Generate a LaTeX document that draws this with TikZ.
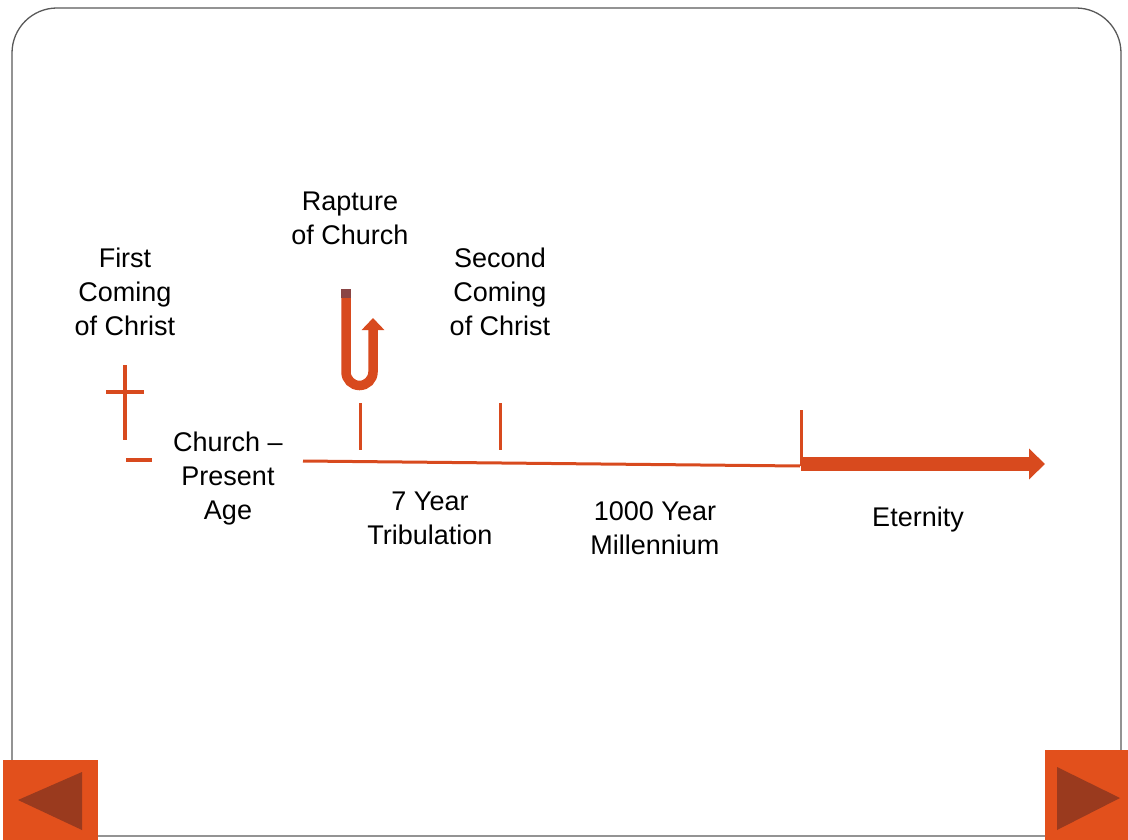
\documentclass[tikz,border=0pt]{standalone}
\usepackage{fontspec}
\setmainfont{Liberation Sans}
\usetikzlibrary{arrows.meta, positioning}

\definecolor{lineRed}{HTML}{D84A1E}
\definecolor{btnRed}{HTML}{E2501C}
\definecolor{btnDark}{HTML}{9A3A1E}
\definecolor{capDark}{HTML}{8A4545}

\tikzset{
  label text/.style={align=center, font=\fontsize{27}{34}\selectfont, inner sep=0pt},
  tick/.style={lineRed, line width=3.5pt},
}

\begin{document}
\begin{tikzpicture}[x=1pt, y=-1pt]
		\useasboundingbox (0,0) rectangle (1128,840);
		% Frame
		\draw[gray!70!black, line width=1.3pt, rounded corners=45pt] (12,8) rectangle (1121,836);
		
		% Cross for the first coming
		\draw[tick] (125,365) -- (125,440);
		\draw[tick] (106,392) -- (144,392);
		\draw[tick] (126,460) -- (152,460);
		
		% Timeline
		\draw[tick, line width=3pt] (303,461) -- (800,466);
		\draw[tick, line width=3pt] (360,403) -- (360,450);
		\draw[tick, line width=3pt] (500,403) -- (500,450);
		\draw[tick, line width=3pt] (801,410) -- (801,466);
		\draw[lineRed, line width=14pt, -{Triangle[width=30pt, length=16pt]}] (801,464) -- (1045,464);
		
		% Rapture U-turn
		\draw[lineRed, line width=9.5pt, -{Triangle[width=22pt, length=12pt]}] (346,293) -- (346,372) arc[start angle=180, end angle=360, radius=13.5pt] -- (373,318);
		\fill[capDark] (341.25,289) rectangle (350.75,298);
		
		% Labels
		\node[label text] (first) at (125,292) {First\\Coming\\of Christ};
		\node[label text] (rapture) at (350,218) {Rapture\\of Church};
		\node[label text] (second) at (500,292) {Second\\Coming\\of Christ};
		\node[label text] (church) at (228,479) {Church –\\Present\\Age};
		\node[label text] (trib) at (430,518) {7 Year\\Tribulation};
		\node[label text] (mill) at (655,528) {1000 Year\\Millennium};
		\node[label text] (eternity) at (918,520) {Eternity};
		
		% Navigation buttons
		\fill[btnRed] (3,760) rectangle (98,840);
		\fill[btnDark] (82,772) -- (82,830) -- (18,800) -- cycle;
		\fill[btnRed] (1045,750) rectangle (1128,840);
		\fill[btnDark] (1057,767) -- (1057,830) -- (1120,798) -- cycle;
	\end{tikzpicture}
\end{document}
